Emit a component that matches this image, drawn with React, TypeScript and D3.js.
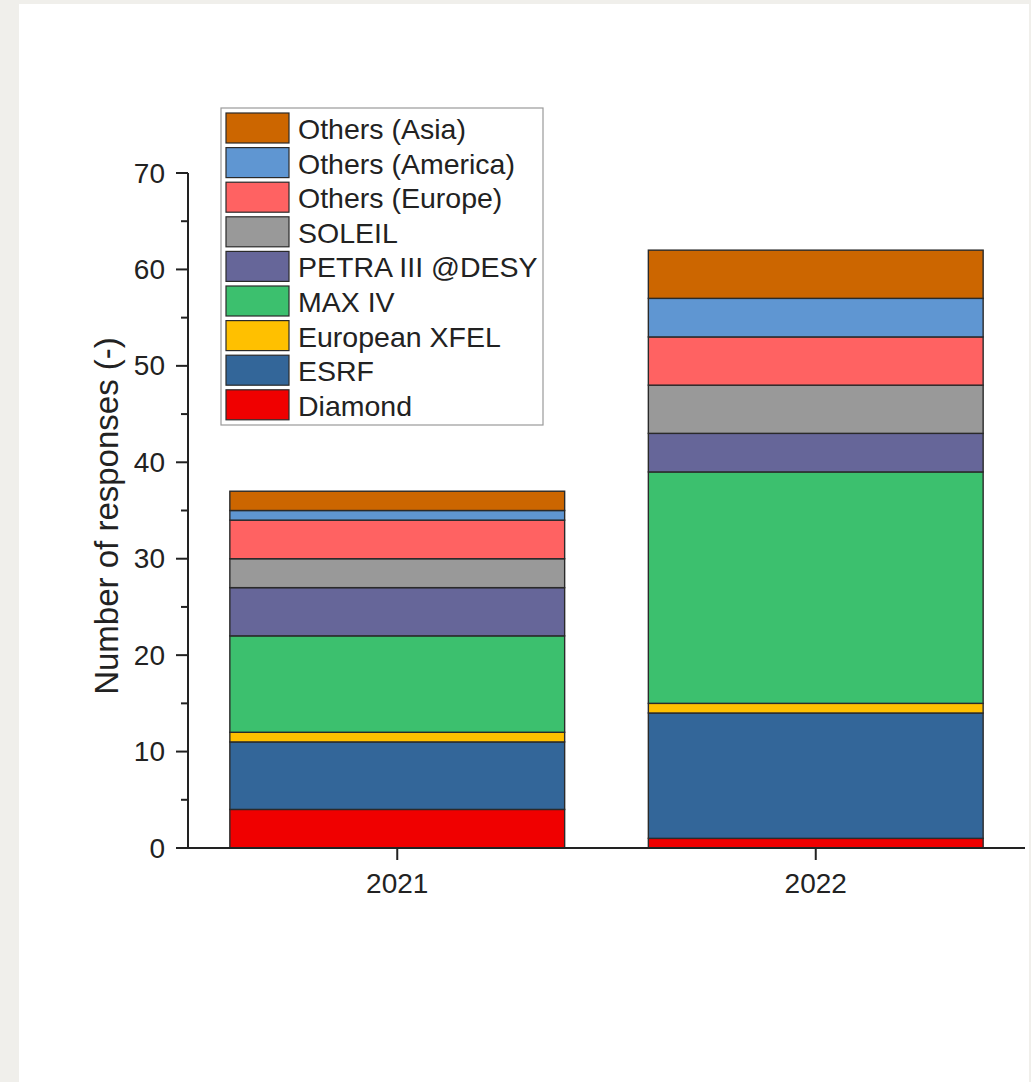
import React from "react";
import * as d3 from "d3";

const years = ["2021", "2022"];
const seriesNames = [
  "Diamond",
  "ESRF",
  "European XFEL",
  "MAX IV",
  "PETRA III @DESY",
  "SOLEIL",
  "Others (Europe)",
  "Others (America)",
  "Others (Asia)",
];
const seriesColors = [
  "#f00000",
  "#336699",
  "#ffc000",
  "#3cc06e",
  "#666699",
  "#999999",
  "#ff6262",
  "#5f96d2",
  "#cc6600",
];
const values2021 = [4, 7, 1, 10, 5, 3, 4, 1, 2];
const values2022 = [1, 13, 1, 24, 4, 5, 5, 4, 5];
const yTicks = [0, 10, 20, 30, 40, 50, 60, 70];
const yMinorTicks = [5, 15, 25, 35, 45, 55, 65];

const W = 1031;
const H = 1082;
const FONT = "'Liberation Sans', Arial, Helvetica, sans-serif";

export default function App() {
  const x = d3.scaleBand<string>().domain(years).range([188, 1025]).paddingInner(0.2).paddingOuter(0.1);
  const y = d3.scaleLinear().domain([0, 70]).range([848, 173]);

  const rows = years.map((yr, i) => {
    const obj: Record<string, number | string> = { year: yr };
    const vals = i === 0 ? values2021 : values2022;
    seriesNames.forEach((s, j) => (obj[s] = vals[j]));
    return obj;
  });
  const stack = d3.stack<Record<string, number | string>>().keys(seriesNames);
  const stacked = stack(rows as any);

  const legendX = 221;
  const legendY = 108;
  const legendW = 322;
  const legendH = 317;
  const rowPitch = 34.6;
  const legendOrder = [...seriesNames].map((n, i) => i).reverse();

  return (
    <div style={{ position: "absolute", left: 0, top: 0 }}>
      <svg width={W} height={H} style={{ display: "block" }}>
        <rect x={0} y={0} width={W} height={H} fill="#f0efeb" />
        <rect x={19} y={4} width={1010} height={H - 4} fill="#ffffff" />

        {/* bars */}
        {stacked.map((layer, j) => (
          <g key={seriesNames[j]}>
            {layer.map((d, i) => (
              <rect
                key={i}
                x={x(years[i])!}
                y={y(d[1])}
                width={x.bandwidth()}
                height={y(d[0]) - y(d[1])}
                fill={seriesColors[j]}
                stroke="#2a2a2a"
                strokeWidth={1.4}
              />
            ))}
          </g>
        ))}

        {/* y axis */}
        <line x1={188} x2={188} y1={y(70)} y2={y(0) + 1} stroke="#222" strokeWidth={2} />
        {yTicks.map((t) => (
          <g key={t}>
            <line x1={176} x2={188} y1={y(t)} y2={y(t)} stroke="#222" strokeWidth={2} />
            <text
              x={165}
              y={y(t)}
              textAnchor="end"
              dominantBaseline="central"
              fontFamily={FONT}
              fontSize={28}
              fill="#222"
            >
              {t}
            </text>
          </g>
        ))}
        {yMinorTicks.map((t) => (
          <line key={t} x1={181} x2={188} y1={y(t)} y2={y(t)} stroke="#222" strokeWidth={2} />
        ))}

        {/* x axis */}
        <line x1={187} x2={1025} y1={y(0)} y2={y(0)} stroke="#222" strokeWidth={2} />
        {years.map((yr) => {
          const cx = x(yr)! + x.bandwidth() / 2;
          return (
            <g key={yr}>
              <line x1={cx} x2={cx} y1={y(0)} y2={y(0) + 12} stroke="#222" strokeWidth={2} />
              <text x={cx} y={893} textAnchor="middle" fontFamily={FONT} fontSize={28} fill="#222">
                {yr}
              </text>
            </g>
          );
        })}

        {/* y label */}
        <text
          transform="translate(118,516) rotate(-90)"
          textAnchor="middle"
          fontFamily={FONT}
          fontSize={33}
          fill="#222"
        >
          Number of responses (-)
        </text>

        {/* legend */}
        <rect x={legendX} y={legendY} width={legendW} height={legendH} fill="#ffffff" stroke="#9a9a9a" strokeWidth={1.2} />
        {legendOrder.map((j, k) => {
          const top = 113 + k * rowPitch;
          return (
            <g key={seriesNames[j]}>
              <rect x={226} y={top} width={63} height={30} fill={seriesColors[j]} stroke="#2a2a2a" strokeWidth={1.2} />
              <text
                x={298}
                y={top + 16}
                dominantBaseline="central"
                fontFamily={FONT}
                fontSize={28.5}
                fill="#222"
              >
                {seriesNames[j]}
              </text>
            </g>
          );
        })}
      </svg>
    </div>
  );
}
